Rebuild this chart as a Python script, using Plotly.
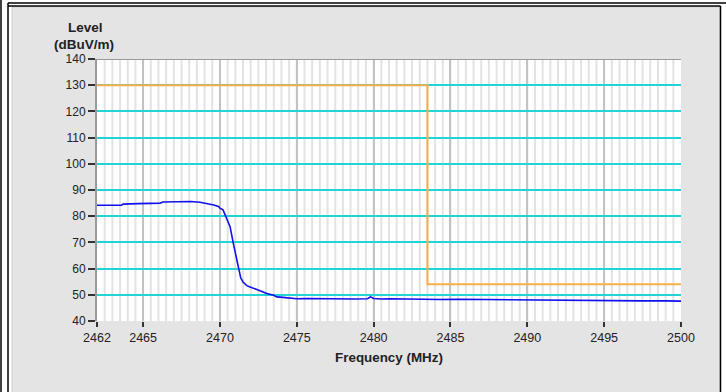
import plotly.graph_objects as go

# ---- data ----
freq = [2462.0, 2462.8, 2463.6, 2463.7, 2464.6, 2464.7, 2465.5, 2466.1, 2466.3, 2467.0, 2467.6,
        2468.1, 2468.7, 2469.0, 2469.36, 2469.6, 2469.9, 2470.0, 2470.2, 2470.33, 2470.45, 2470.66,
        2470.87, 2471.05, 2471.2, 2471.35, 2471.5, 2471.75, 2471.96, 2472.4, 2472.6, 2473.05,
        2473.5, 2473.7, 2474.1, 2474.6, 2475.0, 2475.65, 2476.5, 2477.8, 2478.8, 2479.6, 2479.8,
        2480.0, 2480.5, 2481.1, 2482.0, 2483.0, 2484.3, 2485.5, 2487.0, 2488.5, 2490.0, 2491.5,
        2492.0, 2493.0, 2494.5, 2496.0, 2497.5, 2499.0, 2500.0]
level = [84.2, 84.2, 84.2, 84.6, 84.6, 84.8, 84.9, 85.0, 85.4, 85.5, 85.5,
         85.6, 85.3, 85.0, 84.7, 84.3, 83.7, 83.1, 82.4, 80.5, 79.0, 76.0,
         69.6, 64.5, 59.4, 56.5, 54.9, 53.5, 53.0, 52.0, 51.5, 50.5,
         49.8, 49.2, 49.0, 48.7, 48.5, 48.6, 48.5, 48.6, 48.4, 48.5, 49.2,
         48.6, 48.4, 48.5, 48.4, 48.3, 48.2, 48.3, 48.2, 48.2, 48.1, 48.1,
         47.9, 47.8, 47.8, 47.8, 47.7, 47.7, 47.6]

limit_freq = [2462.0, 2483.5, 2483.5, 2500.0]
limit_level = [130, 130, 54, 54]

x_ticks = [2462, 2465, 2470, 2475, 2480, 2485, 2490, 2495, 2500]
y_ticks = [40, 50, 60, 70, 80, 90, 100, 110, 120, 130, 140]
x_minor_step = 0.5

# ---- layout constants (pixels) ----
W, H = 726, 392
L, R, T, B = 97, 45, 59, 71
PW, PH = W - L - R, H - T - B
FONT = "Liberation Sans, Arial, sans-serif"


def px(x):
    return (x - L) / PW


def py(y):
    return (H - B - y) / PH


fig = go.Figure()
fig.add_trace(go.Scatter(x=limit_freq, y=limit_level, mode="lines",
                         line=dict(color="#f8ae4a", width=2.0), hoverinfo="skip"))
fig.add_trace(go.Scatter(x=freq, y=level, mode="lines",
                         line=dict(color="#1010ee", width=1.6)))

shapes = []
# gray panel
shapes.append(dict(type="rect", xref="paper", yref="paper", layer="below",
                   x0=px(12), x1=px(720), y0=py(7), y1=py(H + 5),
                   fillcolor="#e4e4e4", line=dict(color="#cfcfcf", width=1)))
# white plot area
shapes.append(dict(type="rect", xref="paper", yref="paper", layer="below",
                   x0=0, x1=1, y0=0, y1=1, fillcolor="#ffffff", line=dict(width=0)))
# black frame lines
for (x0, y0, x1, y1) in [(1, 0, 1, H), (8, 3, 8, H), (8, 3, W, 3), (720.5, 6, 720.5, H), (8, 6, 720.5, 6)]:
    shapes.append(dict(type="line", xref="paper", yref="paper",
                       x0=px(x0), x1=px(x1), y0=py(y0), y1=py(y1),
                       line=dict(color="#000000", width=1.5)))
# minor vertical grid lines (below major grid)
n_minor = int(round((x_ticks[-1] - x_ticks[0]) / x_minor_step))
for i in range(1, n_minor):
    xv = x_ticks[0] + i * x_minor_step
    shapes.append(dict(type="line", xref="x", yref="paper", layer="below",
                       x0=xv, x1=xv, y0=0, y1=1,
                       line=dict(color="#e3e3e3", width=2)))
# top border of plot
shapes.append(dict(type="line", xref="x", yref="y", x0=2462, x1=2500, y0=140, y1=140,
                   line=dict(color="#9a9a9a", width=2)))
fig.update_layout(shapes=shapes)

fig.update_xaxes(range=[2462, 2500], tickmode="array", tickvals=x_ticks,
                 ticktext=[str(v) for v in x_ticks],
                 showgrid=True, gridcolor="#c2c2c2", gridwidth=1.5,
                 ticks="outside", ticklen=5, tickcolor="#333", tickwidth=1.5,
                 showline=False, zeroline=False,
                 tickfont=dict(family=FONT, size=12.5, color="#222"),
                 title=dict(text="<b>Frequency (MHz)</b>", standoff=8,
                            font=dict(family=FONT, size=13.4, color="#222")))
fig.update_yaxes(range=[40, 140], tickmode="array", tickvals=y_ticks,
                 showgrid=True, gridcolor="#22d4d4", gridwidth=2,
                 ticks="outside", ticklen=7, tickcolor="#333", tickwidth=1.5,
                 showline=True, linecolor="#9a9a9a", linewidth=2, zeroline=False,
                 tickfont=dict(family=FONT, size=12, color="#222"))

fig.add_annotation(xref="paper", yref="paper", x=px(85), y=py(28), text="<b>Level</b>",
                   showarrow=False, font=dict(family=FONT, size=13.5, color="#222"),
                   xanchor="center", yanchor="middle")
fig.add_annotation(xref="paper", yref="paper", x=px(84), y=py(44), text="<b>(dBuV/m)</b>",
                   showarrow=False, font=dict(family=FONT, size=13.5, color="#222"),
                   xanchor="center", yanchor="middle")

fig.update_layout(width=W, height=H, margin=dict(l=L, r=R, t=T, b=B),
                  paper_bgcolor="#ffffff", plot_bgcolor="rgba(0,0,0,0)", showlegend=False)

fig.write_html("out.html", config={"displayModeBar": False},
               post_script="document.body.style.margin='0';document.body.style.overflow='hidden';")
